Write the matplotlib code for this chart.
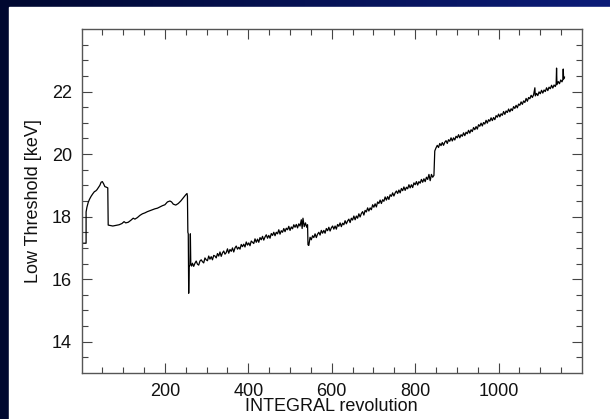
import numpy as np
import matplotlib
matplotlib.use('Agg')
import matplotlib.pyplot as plt
from matplotlib.patches import Rectangle

plt.rcParams['font.family'] = ['Liberation Sans', 'DejaVu Sans']

# (revolution, low threshold keV) pairs, one list per stretch
early = [(2, 17.15), (11, 17.15), (11, 18.15), (13, 18.3), (16, 18.45), (19, 18.55),
         (23, 18.65), (27, 18.73), (31, 18.8), (34, 18.82), (37, 18.86), (40, 18.92),
         (44, 19.0), (47, 19.1), (50, 19.12), (53, 19.05), (56, 18.96), (60, 18.94),
         (63, 18.92), (64, 17.73)]

first_decay = [(68, 17.72), (75, 17.7), (82, 17.72), (90, 17.74), (97, 17.78), (102, 17.84),
               (106, 17.8), (112, 17.82), (118, 17.88), (124, 17.95), (128, 17.92),
               (134, 17.97), (140, 18.04), (146, 18.09), (152, 18.12), (158, 18.16),
               (164, 18.19), (170, 18.22), (176, 18.25), (182, 18.27), (188, 18.31),
               (194, 18.35), (200, 18.38), (206, 18.47), (212, 18.5), (216, 18.47),
               (220, 18.4), (226, 18.37), (232, 18.42), (238, 18.5), (244, 18.6),
               (250, 18.7), (253, 18.74), (254, 18.65), (255, 17.5), (256, 17.45),
               (257, 15.55), (258, 16.4), (260, 16.45), (261, 17.45), (262, 16.5), (264, 16.42)]

second = [(266, 16.51), (269, 16.41), (272, 16.51), (275, 16.58), (278, 16.48), (281, 16.45),
          (284, 16.58), (287, 16.62), (290, 16.56), (293, 16.52), (296, 16.68), (299, 16.62),
          (302, 16.59), (305, 16.74), (308, 16.64), (311, 16.72), (314, 16.62), (317, 16.76),
          (320, 16.74), (323, 16.68), (326, 16.82), (329, 16.74), (332, 16.87), (335, 16.73),
          (338, 16.84), (341, 16.9), (344, 16.8), (347, 16.85), (350, 16.97), (353, 16.83),
          (356, 16.95), (359, 16.89), (362, 17.0), (365, 16.87), (368, 17.0), (371, 17.06),
          (374, 16.96), (377, 17.02), (380, 16.96), (383, 17.11), (386, 17.04), (389, 17.12),
          (392, 17.03), (395, 17.19), (398, 17.09), (401, 17.16), (404, 17.07), (407, 17.22),
          (410, 17.18), (413, 17.14), (416, 17.29), (419, 17.18), (422, 17.28), (425, 17.18),
          (428, 17.33), (431, 17.26), (434, 17.37), (437, 17.25), (440, 17.35), (443, 17.42),
          (446, 17.31), (449, 17.4), (452, 17.31), (455, 17.46), (458, 17.4), (461, 17.5),
          (464, 17.39), (467, 17.5), (470, 17.45), (473, 17.58), (476, 17.44), (479, 17.55),
          (482, 17.5), (485, 17.62), (488, 17.52), (491, 17.63), (494, 17.58), (497, 17.69),
          (500, 17.56), (503, 17.67), (506, 17.61), (509, 17.74), (512, 17.66), (515, 17.75),
          (518, 17.64), (521, 17.77), (524, 17.7), (527, 17.9), (529, 17.62), (531, 17.95),
          (534, 17.68), (537, 17.8), (540, 17.66), (542, 17.74), (543, 17.1)]

third = [(545, 17.08), (548, 17.34), (551, 17.26), (554, 17.39), (557, 17.33), (560, 17.45),
         (563, 17.33), (566, 17.44), (569, 17.5), (572, 17.41), (575, 17.56), (578, 17.47),
         (581, 17.56), (584, 17.47), (587, 17.62), (590, 17.55), (593, 17.66), (596, 17.54),
         (599, 17.64), (602, 17.7), (605, 17.6), (608, 17.7), (611, 17.6), (614, 17.75),
         (617, 17.69), (620, 17.8), (623, 17.68), (626, 17.79), (629, 17.74), (632, 17.87),
         (635, 17.77), (638, 17.86), (641, 17.92), (644, 17.81), (647, 17.95), (650, 17.89),
         (653, 18.02), (656, 17.9), (659, 18.02), (662, 17.95), (665, 18.09), (668, 17.99),
         (671, 18.1), (674, 18.16), (677, 18.05), (680, 18.2), (683, 18.15), (686, 18.28),
         (689, 18.18), (692, 18.28), (695, 18.22), (698, 18.38), (701, 18.3), (704, 18.41),
         (707, 18.31), (710, 18.47), (713, 18.42), (716, 18.53), (719, 18.42), (722, 18.54),
         (725, 18.49), (728, 18.63), (731, 18.53), (734, 18.64), (737, 18.55), (740, 18.7),
         (743, 18.65), (746, 18.76), (749, 18.66), (752, 18.76), (755, 18.82), (758, 18.74),
         (761, 18.85), (764, 18.76), (767, 18.9), (770, 18.83), (773, 18.95), (776, 18.84),
         (779, 18.94), (782, 18.89), (785, 19.02), (788, 18.92), (791, 19.02), (794, 18.93),
         (797, 19.08), (800, 19.02), (803, 19.12), (806, 19.01), (809, 19.12), (812, 19.07),
         (815, 19.19), (818, 19.1), (821, 19.21), (824, 19.12), (827, 19.26), (830, 19.19),
         (833, 19.35), (836, 19.15), (839, 19.35), (842, 19.26), (845, 19.32), (847, 20.1)]

fourth = [(850, 20.2), (853, 20.28), (856, 20.21), (859, 20.34), (862, 20.27), (865, 20.37),
          (868, 20.28), (871, 20.38), (874, 20.43), (877, 20.34), (880, 20.46), (883, 20.41),
          (886, 20.52), (889, 20.42), (892, 20.52), (895, 20.45), (898, 20.57), (901, 20.52),
          (904, 20.62), (907, 20.52), (910, 20.62), (913, 20.57), (916, 20.68), (919, 20.59),
          (922, 20.7), (925, 20.65), (928, 20.76), (931, 20.67), (934, 20.78), (937, 20.72),
          (940, 20.85), (943, 20.78), (946, 20.88), (949, 20.8), (952, 20.94), (955, 20.89),
          (958, 20.99), (961, 20.9), (964, 21.01), (967, 20.96), (970, 21.08), (973, 20.99),
          (976, 21.1), (979, 21.05), (982, 21.16), (985, 21.07), (988, 21.17), (991, 21.1),
          (994, 21.23), (997, 21.18), (1000, 21.28), (1003, 21.19), (1006, 21.29),
          (1009, 21.24), (1012, 21.36), (1015, 21.27), (1018, 21.38), (1021, 21.33),
          (1024, 21.44), (1027, 21.35), (1030, 21.45), (1033, 21.39), (1036, 21.52),
          (1039, 21.46), (1042, 21.56), (1045, 21.48), (1048, 21.6), (1051, 21.56),
          (1054, 21.67), (1057, 21.59), (1060, 21.7), (1063, 21.65), (1066, 21.78),
          (1069, 21.69), (1072, 21.81), (1075, 21.77), (1078, 21.88), (1081, 21.81),
          (1084, 21.9), (1087, 22.12), (1088, 21.86), (1091, 21.94), (1094, 21.87),
          (1097, 21.99), (1100, 21.93), (1103, 22.04), (1106, 21.95), (1109, 22.05),
          (1112, 22.0), (1115, 22.12), (1118, 22.03), (1121, 22.14), (1124, 22.09),
          (1127, 22.2), (1130, 22.11), (1133, 22.21), (1136, 22.16), (1138, 22.24),
          (1139, 22.75), (1140, 22.22), (1143, 22.32), (1146, 22.25), (1149, 22.37),
          (1152, 22.31), (1154, 22.38), (1155, 22.72), (1156, 22.4), (1158, 22.46)]

rev, thr = zip(*(early + first_decay + second + third + fourth))

fig = plt.figure(figsize=(6.1, 4.19), dpi=100)

# dark blue slide background with a white panel
bg = fig.add_axes([0, 0, 1, 1], zorder=-10)
grad = np.linspace(0, 1, 256).reshape(1, -1)
cmap = matplotlib.colors.LinearSegmentedColormap.from_list('bg', ['#000830', '#0c1c78'])
bg.imshow(grad, aspect='auto', cmap=cmap, extent=[0, 1, 0, 1])
bg.add_patch(Rectangle((9 / 610, 0), 1, 1 - 7 / 419, color='white'))
bg.set_xlim(0, 1)
bg.set_ylim(0, 1)
bg.axis('off')

ax = fig.add_axes([81.5 / 610, 1 - 373 / 419, (582 - 81.5) / 610, (373 - 29) / 419])
ax.plot(rev, thr, color='black', lw=0.9)

ax.set_xlim(0, 1200)
ax.set_ylim(13, 24)
ax.set_xticks([200, 400, 600, 800, 1000])
ax.set_xticks(np.arange(50, 1200, 50), minor=True)
ax.set_yticks([14, 16, 18, 20, 22])
ax.set_yticks(np.arange(13.5, 24, 0.5), minor=True)
ax.tick_params(which='both', direction='in', top=True, right=True, color='#444444',
               labelsize=13, labelcolor='#111111', pad=7)
ax.tick_params(which='major', length=7, width=0.8)
ax.tick_params(which='minor', length=4, width=0.8)
for s in ax.spines.values():
    s.set_color('#555555')
    s.set_linewidth(1)

ax.set_xlabel('INTEGRAL revolution', fontsize=13, color='#111111', labelpad=-1)
ax.set_ylabel('Low Threshold [keV]', fontsize=13, color='#111111', labelpad=7)

fig.savefig('out.png', dpi=100)
